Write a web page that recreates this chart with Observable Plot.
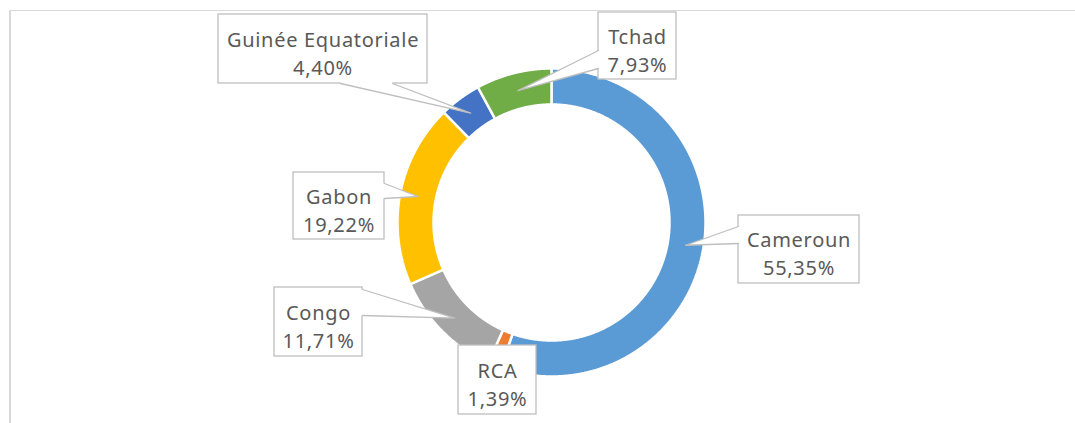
<!DOCTYPE html>
<html><head><meta charset="utf-8">
<script src="https://cdn.jsdelivr.net/npm/d3@7"></script>
<script src="https://cdn.jsdelivr.net/npm/@observablehq/plot@0.6"></script>
<style>
html,body{margin:0;padding:0;background:#fff;}
#wrap{position:relative;width:1075px;height:423px;overflow:hidden;}
#frame{position:absolute;left:9px;top:10px;right:-5px;bottom:-5px;border-top:1px solid #D9D9D9;border-left:2px solid #D9D9D9;pointer-events:none;}
#wrap svg text{letter-spacing:0.7px;}
</style></head><body><div id="wrap"><div id="frame"></div></div>
<script>
// ---- data ----
const countries = ["Cameroun", "RCA", "Congo", "Gabon", "Guinée Equatoriale", "Tchad"];
const shares = [55.35, 1.39, 11.71, 19.22, 4.40, 7.93];
const shareLabels = ["55,35%", "1,39%", "11,71%", "19,22%", "4,40%", "7,93%"];
const colors = ["#5B9BD5", "#ED7D31", "#A5A5A5", "#FFC000", "#4472C4", "#70AD47"];

// ---- layout (pixels) ----
const W = 1075, H = 423, CX = 551, CY = 222, R_OUT = 154, R_IN = 118, R_TIP = 136;
// callout boxes: x1, y1, x2, y2, pointer side, pointer base span
const boxLayout = [
  [738, 215, 859, 283, "left", 226, 243],
  [458, 345, 536, 414, "none", 0, 0],
  [274, 287, 362, 356, "right", 289, 315],
  [293, 172, 384, 239, "right", 183, 198],
  [218, 14, 427, 83, "bottom", 340, 392],
  [598, 12, 676, 79, "left", 50, 68]
];

const table = countries.map((c, i) => ({key: c, value: shares[i], label: shareLabels[i]}));
const arcs = d3.pie().sort(null).value(d => d.value)(table);

// ring polygons
const ringPts = [];
const pt = (r, a) => ({x: CX + r * Math.sin(a), y: CY - r * Math.cos(a)});
arcs.forEach(a => {
  const n = Math.max(2, Math.ceil((a.endAngle - a.startAngle) / 0.005));
  const poly = [];
  for (let k = 0; k <= n; k++) poly.push(pt(R_OUT, a.startAngle + (a.endAngle - a.startAngle) * k / n));
  for (let k = n; k >= 0; k--) poly.push(pt(R_IN, a.startAngle + (a.endAngle - a.startAngle) * k / n));
  poly.push(poly[0]);
  poly.forEach(p => ringPts.push({key: a.data.key, ...p}));
});

// callouts
const boxes = arcs.map((a, i) => {
  const [x1, y1, x2, y2, side, b1, b2] = boxLayout[i];
  const tip = pt(R_TIP, (a.startAngle + a.endAngle) / 2);
  return {key: a.data.key, x1, y1, x2, y2, side, b1, b2, tip,
          text: a.data.key + "\n" + a.data.label, cx: (x1 + x2) / 2, cy: (y1 + y2) / 2 + 3};
});
const pFill = [], pLine = [];
boxes.forEach(b => {
  if (b.side === "none") return;
  let p1, p2, i1, i2;
  if (b.side === "left") { p1 = {x: b.x1, y: b.b1}; p2 = {x: b.x1, y: b.b2}; i1 = {x: b.x1 + 2, y: b.b1}; i2 = {x: b.x1 + 2, y: b.b2}; }
  if (b.side === "right") { p1 = {x: b.x2, y: b.b1}; p2 = {x: b.x2, y: b.b2}; i1 = {x: b.x2 - 2, y: b.b1}; i2 = {x: b.x2 - 2, y: b.b2}; }
  if (b.side === "bottom") { p1 = {x: b.b1, y: b.y2}; p2 = {x: b.b2, y: b.y2}; i1 = {x: b.b1, y: b.y2 - 2}; i2 = {x: b.b2, y: b.y2 - 2}; }
  [i1, p1, b.tip, p2, i2].forEach(p => pFill.push({key: b.key, ...p}));
  [p1, b.tip, p2].forEach(p => pLine.push({key: b.key, ...p}));
});

const chart = Plot.plot({
  width: W, height: H,
  margin: 0,
  x: {domain: [0, W], range: [0, W], axis: null},
  y: {domain: [0, H], range: [0, H], axis: null},
  color: {domain: countries, range: colors},
  style: {fontFamily: "'Noto Sans', sans-serif", background: "transparent", overflow: "visible"},
  marks: [
    Plot.line(ringPts, {x: "x", y: "y", z: "key", fill: "key", stroke: "white", strokeWidth: 2.5, curve: "linear", strokeLinejoin: "miter"}),
    Plot.rect(boxes, {x1: "x1", x2: "x2", y1: "y1", y2: "y2", fill: "white", stroke: "#BFBFBF", strokeWidth: 1.3}),
    Plot.line(pFill, {x: "x", y: "y", z: "key", fill: "white", stroke: null}),
    Plot.line(pLine, {x: "x", y: "y", z: "key", stroke: "#BFBFBF", strokeWidth: 1.3}),
    Plot.text(boxes, {x: "cx", y: "cy", text: "text", fontSize: 20, lineHeight: 1.4, fill: "#595959", textAnchor: "middle"})
  ]
});
document.getElementById("wrap").prepend(chart);
</script>
</body></html>
